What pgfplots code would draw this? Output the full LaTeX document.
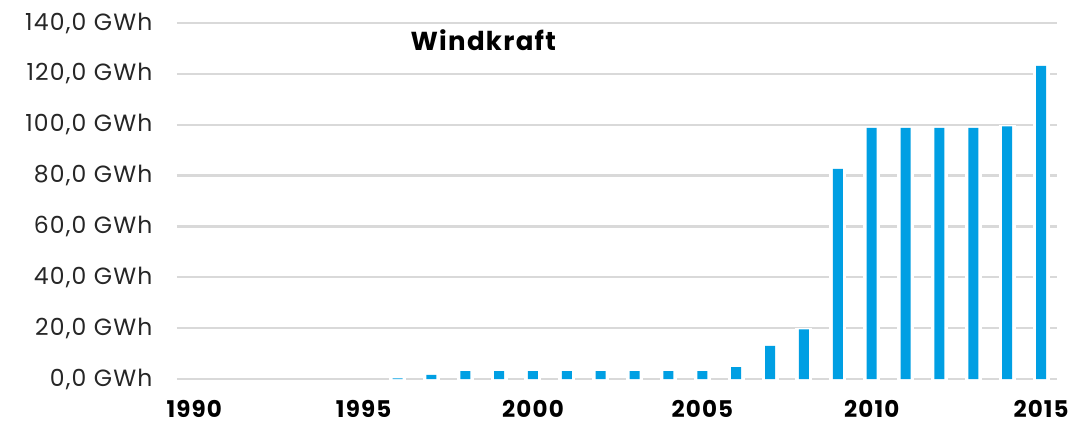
\documentclass[border=0pt]{standalone}
\usepackage{pgfplots}
\pgfplotsset{compat=1.18}
\usepackage{fontspec}
\setmainfont{Poppins}
\newfontfamily\labelfont[LetterSpace=5]{Poppins}
\definecolor{barblue}{HTML}{009FE3}
\definecolor{gridgray}{HTML}{D9D9D9}
\definecolor{labelgray}{HTML}{262626}

% Annual wind power generation (GWh); no generation recorded before 1996
\pgfplotstableread{
year value
1996 0.2
1997 1.6
1998 3.1
1999 3.1
2000 3.1
2001 3.1
2002 3.1
2003 3.1
2004 3.1
2005 3.1
2006 4.7
2007 13.0
2008 19.5
2009 82.6
2010 98.8
2011 98.8
2012 98.8
2013 98.8
2014 99.3
2015 123.1
}\windtable

\begin{document}
\begin{tikzpicture}
\begin{axis}[
  at={(0,0)}, anchor=south west,
  scale only axis,
  width=880bp, height=356bp,
  xmin=1989.49, xmax=2015.47,
  ymin=0, ymax=140,
  axis line style={draw=none},
  ymajorgrids,
  grid style={gridgray, line width=2.2bp},
  ytick={0,20,...,140},
  yticklabels={{0,0 GWh},{20,0 GWh},{40,0 GWh},{60,0 GWh},{80,0 GWh},{100,0 GWh},{120,0 GWh},{140,0 GWh}},
  xtick={1990,1995,2000,2005,2010,2015},
  xticklabels={1990,1995,2000,2005,2010,2015},
  major tick length=0pt,
  yticklabel style={font=\labelfont\fontsize{23.5bp}{27bp}\selectfont, text=labelgray, xshift=-21bp},
  xticklabel style={font=\labelfont\fontsize{23bp}{26bp}\selectfont\bfseries, yshift=-18bp, text=black},
  clip=false,
]
  % white halo that interrupts the grid lines around each bar
  \addplot[ybar, bar width=14bp, bar shift=0pt, fill=white, draw=white, line width=3bp]
    table[x=year, y=value] {\windtable};
  \addplot[ybar, bar width=10bp, bar shift=0pt, fill=barblue, draw=none]
    table[x=year, y=value] {\windtable};
  \node[font=\labelfont\fontsize{26bp}{30bp}\selectfont\bfseries] at (rel axis cs:0.348,0.952) {Windkraft};
\end{axis}
\pgfresetboundingbox
\path[use as bounding box] (-177bp,-49bp) rectangle (901bp,379bp);
\end{tikzpicture}
\end{document}
